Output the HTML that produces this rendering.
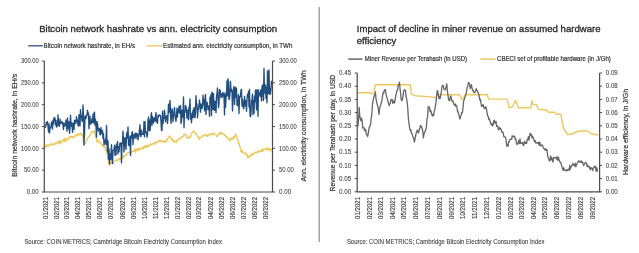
<!DOCTYPE html>
<html><head><meta charset="utf-8"><style>
html,body{margin:0;padding:0;background:#fff;width:639px;height:253px;overflow:hidden}
svg{display:block;filter:blur(0.3px)}
</style></head><body>
<svg width="639" height="253" viewBox="0 0 639 253" font-family='"Liberation Sans", sans-serif'>
<rect width="639" height="253" fill="#ffffff"/>
<polyline fill="none" stroke="#ebc95f" stroke-width="1.35" stroke-linejoin="round" points="45.00,146.13 45.50,146.19 46.00,147.20 46.50,144.65 47.00,145.12 47.50,146.14 48.00,145.25 48.50,145.07 49.00,146.40 49.50,144.86 50.00,144.19 50.50,143.98 51.00,145.03 51.50,144.91 52.00,143.64 52.50,143.81 53.00,144.77 53.50,144.70 54.00,143.75 54.50,144.54 55.00,144.40 55.50,142.54 56.00,143.36 56.50,143.67 57.00,142.77 57.50,141.46 58.00,142.55 58.50,143.07 59.00,143.44 59.50,140.59 60.00,143.75 60.50,140.92 61.00,142.17 61.50,142.16 62.00,141.77 62.50,140.98 63.00,139.85 63.50,140.90 64.00,139.75 64.50,138.28 65.00,141.81 65.50,140.12 66.00,140.69 66.50,138.57 67.00,140.03 67.50,139.92 68.00,139.70 68.50,138.41 69.00,137.39 69.50,137.91 70.00,136.30 70.50,136.46 71.00,137.53 71.50,136.58 72.00,136.96 72.50,136.81 73.00,138.04 73.50,137.41 74.00,136.28 74.50,136.96 75.00,135.38 75.50,135.49 76.00,136.18 76.50,134.48 77.00,134.96 77.50,134.04 78.00,134.85 78.50,135.72 79.00,133.86 79.50,134.35 80.00,133.37 80.50,133.20 81.00,133.13 81.50,135.02 82.00,135.65 82.50,134.34 83.00,137.73 83.50,142.95 84.00,144.45 84.50,144.44 85.00,143.28 85.50,142.48 86.00,141.91 86.50,140.29 87.00,139.66 87.50,137.99 88.00,138.13 88.50,136.69 89.00,136.83 89.50,135.50 90.00,135.49 90.50,134.98 91.00,132.92 91.50,132.59 92.00,131.74 92.50,132.17 93.00,132.49 93.50,131.65 94.00,130.56 94.50,132.10 95.00,132.36 95.50,136.82 96.00,137.66 96.50,138.13 97.00,142.32 97.50,141.96 98.00,140.53 98.50,141.76 99.00,141.88 99.50,142.49 100.00,141.77 100.50,142.73 101.00,143.92 101.50,144.14 102.00,145.21 102.50,144.82 103.00,146.93 103.50,145.51 104.00,146.92 104.50,146.12 105.00,147.31 105.50,149.84 106.00,148.97 106.50,150.73 107.00,152.87 107.50,155.21 108.00,158.71 108.50,161.62 109.00,164.66 109.50,164.99 110.00,164.39 110.50,163.05 111.00,162.57 111.50,163.15 112.00,162.63 112.50,163.17 113.00,164.06 113.50,162.54 114.00,161.68 114.50,161.33 115.00,160.60 115.50,160.33 116.00,160.07 116.50,160.30 117.00,160.09 117.50,160.71 118.00,159.72 118.50,159.50 119.00,158.43 119.50,160.08 120.00,158.93 120.50,159.47 121.00,158.41 121.50,158.54 122.00,156.97 122.50,157.29 123.00,158.32 123.50,155.21 124.00,156.54 124.50,156.55 125.00,155.29 125.50,155.18 126.00,155.25 126.50,153.63 127.00,154.14 127.50,152.98 128.00,152.87 128.50,152.66 129.00,152.75 129.50,152.70 130.00,152.67 130.50,151.08 131.00,153.31 131.50,152.54 132.00,152.06 132.50,151.10 133.00,151.12 133.50,151.40 134.00,151.12 134.50,149.45 135.00,151.00 135.50,152.39 136.00,148.79 136.50,150.65 137.00,150.03 137.50,149.50 138.00,150.39 138.50,148.39 139.00,149.20 139.50,149.98 140.00,148.64 140.50,148.32 141.00,148.55 141.50,148.00 142.00,149.28 142.50,147.36 143.00,148.49 143.50,146.80 144.00,148.03 144.50,147.32 145.00,145.39 145.50,147.09 146.00,146.13 146.50,146.31 147.00,147.46 147.50,145.29 148.00,145.06 148.50,146.59 149.00,145.37 149.50,146.13 150.00,144.98 150.50,143.85 151.00,144.17 151.50,144.86 152.00,144.51 152.50,143.70 153.00,143.59 153.50,143.34 154.00,142.86 154.50,144.53 155.00,143.01 155.50,141.98 156.00,142.25 156.50,142.92 157.00,142.66 157.50,141.89 158.00,141.31 158.50,141.61 159.00,140.18 159.50,140.25 160.00,141.56 160.50,140.44 161.00,140.85 161.50,141.26 162.00,140.89 162.50,140.63 163.00,142.35 163.50,141.49 164.00,140.95 164.50,141.93 165.00,141.90 165.50,141.19 166.00,142.05 166.50,141.06 167.00,138.94 167.50,139.41 168.00,138.50 168.50,137.57 169.00,135.88 169.50,136.26 170.00,137.08 170.50,137.78 171.00,137.48 171.50,139.35 172.00,138.61 172.50,139.92 173.00,141.61 173.50,140.76 174.00,141.14 174.50,142.30 175.00,141.26 175.50,141.34 176.00,141.73 176.50,142.34 177.00,140.01 177.50,140.55 178.00,139.97 178.50,139.46 179.00,139.17 179.50,138.73 180.00,139.10 180.50,137.79 181.00,138.06 181.50,137.78 182.00,136.44 182.50,136.53 183.00,137.08 183.50,135.61 184.00,134.39 184.50,134.27 185.00,133.59 185.50,135.05 186.00,136.08 186.50,135.49 187.00,136.53 187.50,138.09 188.00,137.55 188.50,138.65 189.00,138.07 189.50,137.25 190.00,136.49 190.50,137.41 191.00,134.63 191.50,133.57 192.00,132.58 192.50,131.88 193.00,131.96 193.50,131.13 194.00,131.94 194.50,131.50 195.00,133.21 195.50,133.24 196.00,134.32 196.50,133.74 197.00,135.51 197.50,136.40 198.00,137.13 198.50,136.64 199.00,139.62 199.50,138.36 200.00,137.95 200.50,137.71 201.00,137.36 201.50,137.43 202.00,135.89 202.50,135.76 203.00,136.24 203.50,135.77 204.00,135.04 204.50,134.90 205.00,134.72 205.50,135.26 206.00,136.13 206.50,134.56 207.00,136.37 207.50,135.89 208.00,134.98 208.50,135.85 209.00,134.27 209.50,133.97 210.00,134.15 210.50,134.65 211.00,134.58 211.50,134.33 212.00,134.63 212.50,132.95 213.00,134.67 213.50,133.20 214.00,133.61 214.50,133.92 215.00,133.92 215.50,134.29 216.00,135.06 216.50,136.28 217.00,136.81 217.50,136.29 218.00,134.70 218.50,134.35 219.00,133.76 219.50,134.21 220.00,131.97 220.50,133.77 221.00,132.59 221.50,132.54 222.00,133.48 222.50,134.12 223.00,133.80 223.50,134.45 224.00,133.97 224.50,134.99 225.00,135.64 225.50,135.34 226.00,137.06 226.50,136.80 227.00,137.39 227.50,137.32 228.00,138.41 228.50,139.79 229.00,138.97 229.50,140.80 230.00,140.34 230.50,140.03 231.00,138.04 231.50,139.26 232.00,139.53 232.50,138.29 233.00,138.63 233.50,136.65 234.00,138.52 234.50,137.34 235.00,136.95 235.50,133.59 236.00,135.09 236.50,135.96 237.00,138.21 237.50,138.52 238.00,140.26 238.50,143.88 239.00,143.51 239.50,145.38 240.00,147.46 240.50,148.72 241.00,151.46 241.50,152.17 242.00,150.80 242.50,150.41 243.00,152.77 243.50,153.05 244.00,153.18 244.50,153.74 245.00,152.79 245.50,153.78 246.00,153.43 246.50,153.91 247.00,156.09 247.50,155.43 248.00,158.00 248.50,156.79 249.00,155.96 249.50,156.63 250.00,157.01 250.50,155.76 251.00,154.24 251.50,155.02 252.00,155.39 252.50,153.81 253.00,153.37 253.50,154.37 254.00,153.52 254.50,152.40 255.00,152.66 255.50,152.15 256.00,152.64 256.50,152.27 257.00,152.75 257.50,152.25 258.00,150.53 258.50,151.78 259.00,151.99 259.50,151.56 260.00,151.83 260.50,150.60 261.00,150.19 261.50,151.38 262.00,149.86 262.50,148.96 263.00,151.06 263.50,149.71 264.00,149.87 264.50,148.98 265.00,148.90 265.50,148.88 266.00,149.31 266.50,149.69 267.00,147.70 267.50,149.75 268.00,148.49 268.50,148.67 269.00,149.99 269.50,149.56 270.00,148.63 270.50,151.10 271.00,149.30 271.50,150.17"/>
<polyline fill="none" stroke="#214e7e" stroke-width="1.35" stroke-linejoin="round" points="45.00,126.01 45.50,127.29 46.00,124.81 46.50,122.15 47.00,124.03 47.50,121.70 48.00,126.26 48.50,131.81 49.00,123.86 49.50,133.01 50.00,128.13 50.50,127.55 51.00,126.46 51.50,121.95 52.00,125.87 52.50,129.03 53.00,120.14 53.50,124.00 54.00,117.70 54.50,120.37 55.00,117.95 55.50,124.95 56.00,120.40 56.50,127.11 57.00,126.59 57.50,125.06 58.00,114.81 58.50,123.46 59.00,125.59 59.50,126.27 60.00,119.02 60.50,123.62 61.00,121.39 61.50,122.11 62.00,123.32 62.50,122.06 63.00,125.46 63.50,129.48 64.00,122.97 64.50,125.03 65.00,125.99 65.50,125.66 66.00,119.83 66.50,125.46 67.00,131.02 67.50,118.01 68.00,128.56 68.50,125.16 69.00,121.65 69.50,133.27 70.00,127.64 70.50,115.15 71.00,124.33 71.50,126.44 72.00,122.91 72.50,132.38 73.00,123.20 73.50,126.36 74.00,129.68 74.50,120.10 75.00,123.91 75.50,120.63 76.00,122.97 76.50,116.78 77.00,119.20 77.50,120.62 78.00,125.24 78.50,126.04 79.00,114.65 79.50,116.73 80.00,125.87 80.50,109.79 81.00,115.49 81.50,115.96 82.00,120.97 82.50,121.40 83.00,105.00 83.50,117.08 84.00,145.00 84.50,133.50 85.00,115.98 85.50,116.06 86.00,118.68 86.50,115.92 87.00,115.05 87.50,110.11 88.00,114.94 88.50,113.17 89.00,128.81 89.50,119.22 90.00,116.21 90.50,124.11 91.00,122.94 91.50,123.11 92.00,118.64 92.50,122.45 93.00,114.38 93.50,122.94 94.00,113.34 94.50,112.18 95.00,125.21 95.50,119.32 96.00,125.52 96.50,137.10 97.00,121.62 97.50,123.53 98.00,128.76 98.50,131.13 99.00,128.39 99.50,129.06 100.00,134.79 100.50,134.80 101.00,127.44 101.50,133.58 102.00,132.98 102.50,130.37 103.00,138.39 103.50,133.77 104.00,144.83 104.50,142.02 105.00,142.81 105.50,138.88 106.00,144.38 106.50,125.39 107.00,142.57 107.50,152.15 108.00,140.89 108.50,159.41 109.00,148.92 109.50,164.00 110.00,153.96 110.50,159.69 111.00,153.67 111.50,144.70 112.00,158.61 112.50,163.39 113.00,151.06 113.50,149.60 114.00,149.79 114.50,145.25 115.00,155.36 115.50,146.66 116.00,154.80 116.50,144.36 117.00,145.19 117.50,141.60 118.00,153.95 118.50,146.57 119.00,151.80 119.50,146.73 120.00,142.90 120.50,144.38 121.00,142.89 121.50,162.90 122.00,143.13 122.50,143.17 123.00,131.15 123.50,139.96 124.00,151.95 124.50,139.97 125.00,137.70 125.50,144.36 126.00,149.43 126.50,134.66 127.00,132.45 127.50,138.13 128.00,126.95 128.50,144.40 129.00,145.72 129.50,140.36 130.00,135.83 130.50,155.44 131.00,136.24 131.50,137.93 132.00,132.65 132.50,131.75 133.00,144.54 133.50,134.72 134.00,138.51 134.50,136.41 135.00,133.88 135.50,133.12 136.00,138.60 136.50,133.35 137.00,133.71 137.50,134.20 138.00,139.81 138.50,135.19 139.00,134.84 139.50,129.46 140.00,124.74 140.50,136.64 141.00,136.37 141.50,130.19 142.00,133.43 142.50,134.35 143.00,134.26 143.50,134.39 144.00,121.51 144.50,136.84 145.00,121.79 145.50,132.67 146.00,132.68 146.50,132.03 147.00,137.06 147.50,134.65 148.00,120.23 148.50,116.98 149.00,130.15 149.50,119.96 150.00,130.87 150.50,126.24 151.00,115.60 151.50,112.75 152.00,125.28 152.50,116.78 153.00,121.91 153.50,123.15 154.00,117.93 154.50,118.02 155.00,121.09 155.50,116.47 156.00,112.58 156.50,121.74 157.00,120.86 157.50,123.24 158.00,115.34 158.50,116.96 159.00,114.87 159.50,115.29 160.00,115.66 160.50,115.45 161.00,121.58 161.50,130.49 162.00,130.50 162.50,111.22 163.00,123.77 163.50,118.10 164.00,118.32 164.50,110.06 165.00,115.41 165.50,121.99 166.00,117.13 166.50,117.86 167.00,115.56 167.50,123.54 168.00,116.68 168.50,104.11 169.00,112.47 169.50,104.99 170.00,100.39 170.50,112.84 171.00,123.35 171.50,115.87 172.00,108.75 172.50,109.94 173.00,121.70 173.50,115.97 174.00,115.21 174.50,107.40 175.00,114.89 175.50,119.19 176.00,121.26 176.50,115.52 177.00,108.08 177.50,116.97 178.00,109.88 178.50,112.31 179.00,106.18 179.50,112.66 180.00,113.29 180.50,105.44 181.00,123.45 181.50,121.53 182.00,110.07 182.50,117.22 183.00,114.77 183.50,96.90 184.00,127.63 184.50,111.77 185.00,112.50 185.50,105.35 186.00,106.72 186.50,110.29 187.00,118.28 187.50,112.94 188.00,109.97 188.50,119.74 189.00,106.93 189.50,107.71 190.00,98.82 190.50,119.19 191.00,115.31 191.50,122.73 192.00,113.09 192.50,117.76 193.00,110.12 193.50,117.25 194.00,107.34 194.50,108.84 195.00,117.75 195.50,111.74 196.00,95.58 196.50,104.50 197.00,104.04 197.50,117.81 198.00,110.77 198.50,107.82 199.00,105.03 199.50,100.03 200.00,106.38 200.50,112.13 201.00,103.90 201.50,104.75 202.00,108.31 202.50,106.51 203.00,95.28 203.50,103.87 204.00,99.31 204.50,110.81 205.00,99.71 205.50,94.46 206.00,114.55 206.50,102.10 207.00,102.16 207.50,104.99 208.00,109.79 208.50,108.73 209.00,105.95 209.50,116.35 210.00,97.06 210.50,100.49 211.00,94.33 211.50,115.47 212.00,92.25 212.50,92.90 213.00,109.46 213.50,93.66 214.00,107.52 214.50,110.43 215.00,101.07 215.50,102.89 216.00,112.67 216.50,96.88 217.00,93.72 217.50,87.93 218.00,97.70 218.50,107.79 219.00,103.74 219.50,89.68 220.00,90.01 220.50,92.25 221.00,97.72 221.50,93.81 222.00,96.56 222.50,96.99 223.00,92.50 223.50,94.21 224.00,95.84 224.50,114.87 225.00,92.92 225.50,107.46 226.00,97.98 226.50,93.91 227.00,81.03 227.50,96.00 228.00,78.78 228.50,82.87 229.00,99.58 229.50,98.67 230.00,92.57 230.50,81.31 231.00,91.28 231.50,89.19 232.00,91.50 232.50,111.07 233.00,96.26 233.50,89.11 234.00,86.40 234.50,104.42 235.00,94.37 235.50,87.52 236.00,97.19 236.50,88.18 237.00,105.20 237.50,105.17 238.00,105.67 238.50,94.50 239.00,113.45 239.50,97.69 240.00,96.12 240.50,96.85 241.00,90.09 241.50,89.37 242.00,106.32 242.50,99.37 243.00,102.75 243.50,108.94 244.00,107.39 244.50,96.39 245.00,103.88 245.50,105.85 246.00,100.48 246.50,111.31 247.00,99.85 247.50,94.50 248.00,96.86 248.50,91.36 249.00,107.06 249.50,89.31 250.00,115.50 250.50,116.85 251.00,113.25 251.50,100.23 252.00,100.78 252.50,94.16 253.00,114.69 253.50,100.48 254.00,113.32 254.50,96.14 255.00,101.83 255.50,90.03 256.00,96.92 256.50,109.93 257.00,89.57 257.50,91.30 258.00,116.33 258.50,89.93 259.00,93.93 259.50,93.53 260.00,96.23 260.50,92.15 261.00,89.54 261.50,100.93 262.00,87.23 262.50,84.86 263.00,93.88 263.50,100.57 264.00,68.37 264.50,93.15 265.00,87.81 265.50,84.95 266.00,98.49 266.50,87.76 267.00,102.80 267.50,70.98 268.00,93.74 268.50,80.95 269.00,70.04 269.50,94.38 270.00,88.42 270.50,93.91 271.00,88.64 271.50,80.70"/>
<polyline fill="none" stroke="#ebc95f" stroke-width="1.4" stroke-linejoin="round" points="357.50,92.80 370.00,92.80 373.80,94.20 375.30,84.80 410.40,84.80 411.30,93.80 415.00,95.70 428.20,96.60 435.70,97.50 437.60,94.70 459.20,94.70 462.00,99.40 465.80,94.70 487.40,94.80 488.50,99.10 507.00,99.10 509.10,107.80 512.40,106.70 515.60,100.20 518.30,107.80 530.90,107.80 532.00,100.60 533.00,104.60 536.30,104.60 538.50,109.30 546.00,110.00 548.30,112.20 554.80,112.20 555.90,114.30 560.90,114.30 563.50,128.50 567.80,134.60 572.00,134.00 578.70,131.00 587.40,131.00 591.70,134.00 598.30,135.00"/>
<polyline fill="none" stroke="#666666" stroke-width="1.3" stroke-linejoin="round" points="358.00,126.26 358.60,118.83 359.20,107.41 359.80,116.51 360.40,118.91 361.00,120.96 361.60,118.13 362.20,121.20 362.80,128.13 363.40,127.61 364.00,127.64 364.60,130.71 365.20,129.29 365.80,130.21 366.40,134.68 367.00,134.65 367.60,136.69 368.20,134.12 368.80,129.14 369.40,127.01 370.00,126.29 370.60,124.31 371.20,118.06 371.80,114.47 372.40,105.35 373.00,101.44 373.60,98.08 374.20,96.17 374.80,94.84 375.40,91.85 376.00,98.66 376.60,101.86 377.20,104.23 377.80,106.27 378.40,109.49 379.00,114.47 379.60,108.78 380.20,106.14 380.80,104.74 381.40,102.25 382.00,100.49 382.60,95.63 383.20,92.36 383.80,92.96 384.40,89.89 385.00,89.60 385.60,90.80 386.20,94.99 386.80,97.08 387.40,99.27 388.00,101.35 388.60,103.56 389.20,105.70 389.80,103.87 390.40,103.04 391.00,99.26 391.60,100.36 392.20,99.58 392.80,103.31 393.40,102.07 394.00,100.96 394.60,103.01 395.20,99.05 395.80,95.67 396.40,93.07 397.00,90.25 397.60,90.13 398.20,84.98 398.80,84.78 399.40,82.06 400.00,88.38 400.60,93.35 401.20,99.38 401.80,100.69 402.40,99.45 403.00,96.13 403.60,91.48 404.20,89.85 404.80,90.26 405.40,90.13 406.00,96.32 406.60,98.55 407.20,102.24 407.80,108.68 408.40,119.17 409.00,122.85 409.60,127.94 410.20,130.29 410.80,129.63 411.40,133.21 412.00,133.69 412.60,135.60 413.20,137.25 413.80,139.04 414.40,142.17 415.00,138.96 415.60,135.96 416.20,133.16 416.80,131.32 417.40,130.07 418.00,132.42 418.60,132.83 419.20,129.96 419.80,128.35 420.40,125.51 421.00,126.71 421.60,126.44 422.20,128.73 422.80,131.50 423.40,137.85 424.00,134.04 424.60,132.12 425.20,131.24 425.80,129.86 426.40,127.00 427.00,119.39 427.60,116.40 428.20,106.77 428.80,107.75 429.40,106.81 430.00,111.75 430.60,110.22 431.20,111.85 431.80,114.40 432.40,116.10 433.00,114.29 433.60,115.79 434.20,111.07 434.80,109.70 435.40,106.03 436.00,102.35 436.60,96.09 437.20,90.67 437.80,91.17 438.40,95.16 439.00,98.77 439.60,96.62 440.20,98.33 440.80,94.28 441.40,91.82 442.00,86.29 442.60,85.30 443.20,85.32 443.80,88.75 444.40,89.15 445.00,89.99 445.60,88.88 446.20,86.28 446.80,83.84 447.40,91.19 448.00,95.35 448.60,99.34 449.20,100.85 449.80,100.28 450.40,96.40 451.00,95.92 451.60,99.58 452.20,101.55 452.80,100.88 453.40,102.44 454.00,104.67 454.60,105.14 455.20,104.01 455.80,106.40 456.40,105.26 457.00,107.27 457.60,111.95 458.20,111.79 458.80,114.38 459.40,117.05 460.00,119.06 460.60,116.06 461.20,115.06 461.80,112.43 462.40,112.73 463.00,107.49 463.60,101.41 464.20,99.46 464.80,97.86 465.40,95.03 466.00,94.26 466.60,91.40 467.20,87.16 467.80,85.99 468.40,82.69 469.00,82.92 469.60,84.02 470.20,88.56 470.80,86.40 471.40,84.77 472.00,88.09 472.60,90.62 473.20,90.35 473.80,92.37 474.40,92.76 475.00,92.52 475.60,90.71 476.20,88.61 476.80,90.65 477.40,90.80 478.00,92.73 478.60,93.46 479.20,96.16 479.80,100.09 480.40,99.19 481.00,103.25 481.60,106.33 482.20,105.19 482.80,106.27 483.40,104.78 484.00,108.21 484.60,108.64 485.20,108.43 485.80,106.75 486.40,108.58 487.00,112.74 487.60,115.83 488.20,116.13 488.80,119.50 489.40,118.99 490.00,120.99 490.60,122.69 491.20,124.70 491.80,123.61 492.40,125.91 493.00,125.50 493.60,121.37 494.20,120.19 494.80,123.02 495.40,122.62 496.00,121.30 496.60,126.35 497.20,126.20 497.80,125.98 498.40,129.95 499.00,127.98 499.60,127.50 500.20,129.44 500.80,128.79 501.40,129.99 502.00,132.31 502.60,131.92 503.20,132.90 503.80,136.50 504.40,136.29 505.00,137.06 505.60,137.55 506.20,140.86 506.80,146.00 507.40,144.77 508.00,146.31 508.60,141.76 509.20,141.77 509.80,139.30 510.40,139.42 511.00,139.32 511.60,139.31 512.20,135.59 512.80,136.76 513.40,136.58 514.00,136.39 514.60,136.10 515.20,139.26 515.80,138.71 516.40,142.88 517.00,144.54 517.60,143.93 518.20,142.25 518.80,140.54 519.40,143.55 520.00,138.85 520.60,143.49 521.20,143.13 521.80,142.75 522.40,142.60 523.00,145.04 523.60,145.53 524.20,141.65 524.80,142.07 525.40,143.41 526.00,142.07 526.60,143.52 527.20,139.30 527.80,139.87 528.40,136.66 529.00,140.19 529.60,135.80 530.20,133.16 530.80,135.15 531.40,134.42 532.00,138.11 532.60,136.19 533.20,137.63 533.80,139.43 534.40,141.67 535.00,140.44 535.60,142.78 536.20,143.02 536.80,142.51 537.40,143.20 538.00,143.34 538.60,142.31 539.20,145.28 539.80,142.10 540.40,145.62 541.00,145.96 541.60,145.21 542.20,144.95 542.80,146.27 543.40,147.79 544.00,148.76 544.60,148.76 545.20,150.25 545.80,148.81 546.40,150.42 547.00,149.46 547.60,155.49 548.20,157.70 548.80,158.96 549.40,161.01 550.00,160.40 550.60,155.84 551.20,159.55 551.80,157.61 552.40,160.57 553.00,162.03 553.60,157.74 554.20,158.12 554.80,157.31 555.40,157.71 556.00,157.97 556.60,159.20 557.20,156.64 557.80,160.36 558.40,157.50 559.00,159.47 559.60,161.01 560.20,162.50 560.80,162.43 561.40,164.82 562.00,167.21 562.60,168.63 563.20,170.49 563.80,167.62 564.40,170.21 565.00,170.52 565.60,170.25 566.20,169.93 566.80,171.09 567.40,169.54 568.00,169.82 568.60,169.23 569.20,170.45 569.80,165.26 570.40,169.01 571.00,166.62 571.60,166.21 572.20,164.93 572.80,163.47 573.40,165.20 574.00,164.59 574.60,165.92 575.20,163.16 575.80,166.73 576.40,164.95 577.00,163.68 577.60,162.48 578.20,161.78 578.80,160.73 579.40,161.40 580.00,162.29 580.60,162.22 581.20,160.78 581.80,162.44 582.40,161.79 583.00,163.33 583.60,165.71 584.20,164.36 584.80,163.59 585.40,162.33 586.00,163.05 586.60,163.14 587.20,166.73 587.80,165.24 588.40,166.76 589.00,166.32 589.60,167.65 590.20,169.76 590.80,167.44 591.40,168.29 592.00,168.09 592.60,170.67 593.20,168.27 593.80,167.53 594.40,166.60 595.00,165.97 595.60,167.81 596.20,171.36 596.80,167.56 597.40,170.91 598.00,170.83"/>
<line x1="319.2" y1="7" x2="319.2" y2="242" stroke="#9a9a9a" stroke-width="1.4"/>
<text x="39.20" y="31.60" font-size="9.7" fill="#2b2b2b" textLength="238.00" lengthAdjust="spacingAndGlyphs" stroke="#2b2b2b" stroke-width="0.32">Bitcoin network hashrate vs ann. electricity consumption</text>
<line x1="28.20" y1="45.80" x2="42.80" y2="45.80" stroke="#3a5f86" stroke-width="1.4"/>
<text x="43.60" y="47.90" font-size="6.6" fill="#3a3a3a" textLength="91.40" lengthAdjust="spacingAndGlyphs" stroke="#3a3a3a" stroke-width="0.22">Bitcoin network hashrate, in EH/s</text>
<line x1="147.00" y1="45.80" x2="162.00" y2="45.80" stroke="#ebc95f" stroke-width="1.4"/>
<text x="163.00" y="47.90" font-size="6.6" fill="#3a3a3a" textLength="129.40" lengthAdjust="spacingAndGlyphs" stroke="#3a3a3a" stroke-width="0.22">Estimated ann. electricity consumption, in TWh</text>
<line x1="44.30" y1="61.00" x2="44.30" y2="192.00" stroke="#4a4a4a" stroke-width="1.2"/>
<line x1="43.70" y1="192.00" x2="273.10" y2="192.00" stroke="#4a4a4a" stroke-width="1.2"/>
<line x1="272.50" y1="61.00" x2="272.50" y2="192.00" stroke="#4a4a4a" stroke-width="1.2"/>
<line x1="41.80" y1="192.00" x2="44.30" y2="192.00" stroke="#4a4a4a" stroke-width="1"/>
<line x1="272.50" y1="192.00" x2="275.00" y2="192.00" stroke="#4a4a4a" stroke-width="1"/>
<text x="38.80" y="194.20" font-size="6.8" fill="#3a3a3a" text-anchor="end" textLength="12.10" lengthAdjust="spacingAndGlyphs" stroke="#3a3a3a" stroke-width="0.05">0.00</text>
<text x="279.00" y="194.20" font-size="6.8" fill="#3a3a3a" textLength="12.10" lengthAdjust="spacingAndGlyphs" stroke="#3a3a3a" stroke-width="0.05">0.00</text>
<line x1="41.80" y1="170.17" x2="44.30" y2="170.17" stroke="#4a4a4a" stroke-width="1"/>
<line x1="272.50" y1="170.17" x2="275.00" y2="170.17" stroke="#4a4a4a" stroke-width="1"/>
<text x="38.80" y="172.37" font-size="6.8" fill="#3a3a3a" text-anchor="end" textLength="14.80" lengthAdjust="spacingAndGlyphs" stroke="#3a3a3a" stroke-width="0.05">50.00</text>
<text x="279.00" y="172.37" font-size="6.8" fill="#3a3a3a" textLength="14.80" lengthAdjust="spacingAndGlyphs" stroke="#3a3a3a" stroke-width="0.05">50.00</text>
<line x1="41.80" y1="148.33" x2="44.30" y2="148.33" stroke="#4a4a4a" stroke-width="1"/>
<line x1="272.50" y1="148.33" x2="275.00" y2="148.33" stroke="#4a4a4a" stroke-width="1"/>
<text x="38.80" y="150.53" font-size="6.8" fill="#3a3a3a" text-anchor="end" textLength="17.80" lengthAdjust="spacingAndGlyphs" stroke="#3a3a3a" stroke-width="0.05">100.00</text>
<text x="279.00" y="150.53" font-size="6.8" fill="#3a3a3a" textLength="17.80" lengthAdjust="spacingAndGlyphs" stroke="#3a3a3a" stroke-width="0.05">100.00</text>
<line x1="41.80" y1="126.50" x2="44.30" y2="126.50" stroke="#4a4a4a" stroke-width="1"/>
<line x1="272.50" y1="126.50" x2="275.00" y2="126.50" stroke="#4a4a4a" stroke-width="1"/>
<text x="38.80" y="128.70" font-size="6.8" fill="#3a3a3a" text-anchor="end" textLength="17.80" lengthAdjust="spacingAndGlyphs" stroke="#3a3a3a" stroke-width="0.05">150.00</text>
<text x="279.00" y="128.70" font-size="6.8" fill="#3a3a3a" textLength="17.80" lengthAdjust="spacingAndGlyphs" stroke="#3a3a3a" stroke-width="0.05">150.00</text>
<line x1="41.80" y1="104.67" x2="44.30" y2="104.67" stroke="#4a4a4a" stroke-width="1"/>
<line x1="272.50" y1="104.67" x2="275.00" y2="104.67" stroke="#4a4a4a" stroke-width="1"/>
<text x="38.80" y="106.87" font-size="6.8" fill="#3a3a3a" text-anchor="end" textLength="17.80" lengthAdjust="spacingAndGlyphs" stroke="#3a3a3a" stroke-width="0.05">200.00</text>
<text x="279.00" y="106.87" font-size="6.8" fill="#3a3a3a" textLength="17.80" lengthAdjust="spacingAndGlyphs" stroke="#3a3a3a" stroke-width="0.05">200.00</text>
<line x1="41.80" y1="82.83" x2="44.30" y2="82.83" stroke="#4a4a4a" stroke-width="1"/>
<line x1="272.50" y1="82.83" x2="275.00" y2="82.83" stroke="#4a4a4a" stroke-width="1"/>
<text x="38.80" y="85.03" font-size="6.8" fill="#3a3a3a" text-anchor="end" textLength="17.80" lengthAdjust="spacingAndGlyphs" stroke="#3a3a3a" stroke-width="0.05">250.00</text>
<text x="279.00" y="85.03" font-size="6.8" fill="#3a3a3a" textLength="17.80" lengthAdjust="spacingAndGlyphs" stroke="#3a3a3a" stroke-width="0.05">250.00</text>
<line x1="41.80" y1="61.00" x2="44.30" y2="61.00" stroke="#4a4a4a" stroke-width="1"/>
<line x1="272.50" y1="61.00" x2="275.00" y2="61.00" stroke="#4a4a4a" stroke-width="1"/>
<text x="38.80" y="63.20" font-size="6.8" fill="#3a3a3a" text-anchor="end" textLength="17.80" lengthAdjust="spacingAndGlyphs" stroke="#3a3a3a" stroke-width="0.05">300.00</text>
<text x="279.00" y="63.20" font-size="6.8" fill="#3a3a3a" textLength="17.80" lengthAdjust="spacingAndGlyphs" stroke="#3a3a3a" stroke-width="0.05">300.00</text>
<text x="0.00" y="0.00" font-size="6.6" fill="#3a3a3a" text-anchor="end" textLength="21.90" lengthAdjust="spacingAndGlyphs" transform="translate(47.60,197.0) rotate(-90)" stroke="#3a3a3a" stroke-width="0.12">01/2021</text>
<text x="0.00" y="0.00" font-size="6.6" fill="#3a3a3a" text-anchor="end" textLength="21.90" lengthAdjust="spacingAndGlyphs" transform="translate(58.85,197.0) rotate(-90)" stroke="#3a3a3a" stroke-width="0.12">02/2021</text>
<text x="0.00" y="0.00" font-size="6.6" fill="#3a3a3a" text-anchor="end" textLength="21.90" lengthAdjust="spacingAndGlyphs" transform="translate(69.01,197.0) rotate(-90)" stroke="#3a3a3a" stroke-width="0.12">03/2021</text>
<text x="0.00" y="0.00" font-size="6.6" fill="#3a3a3a" text-anchor="end" textLength="21.90" lengthAdjust="spacingAndGlyphs" transform="translate(80.25,197.0) rotate(-90)" stroke="#3a3a3a" stroke-width="0.12">04/2021</text>
<text x="0.00" y="0.00" font-size="6.6" fill="#3a3a3a" text-anchor="end" textLength="21.90" lengthAdjust="spacingAndGlyphs" transform="translate(91.14,197.0) rotate(-90)" stroke="#3a3a3a" stroke-width="0.12">05/2021</text>
<text x="0.00" y="0.00" font-size="6.6" fill="#3a3a3a" text-anchor="end" textLength="21.90" lengthAdjust="spacingAndGlyphs" transform="translate(102.39,197.0) rotate(-90)" stroke="#3a3a3a" stroke-width="0.12">06/2021</text>
<text x="0.00" y="0.00" font-size="6.6" fill="#3a3a3a" text-anchor="end" textLength="21.90" lengthAdjust="spacingAndGlyphs" transform="translate(113.27,197.0) rotate(-90)" stroke="#3a3a3a" stroke-width="0.12">07/2021</text>
<text x="0.00" y="0.00" font-size="6.6" fill="#3a3a3a" text-anchor="end" textLength="21.90" lengthAdjust="spacingAndGlyphs" transform="translate(124.52,197.0) rotate(-90)" stroke="#3a3a3a" stroke-width="0.12">08/2021</text>
<text x="0.00" y="0.00" font-size="6.6" fill="#3a3a3a" text-anchor="end" textLength="21.90" lengthAdjust="spacingAndGlyphs" transform="translate(135.77,197.0) rotate(-90)" stroke="#3a3a3a" stroke-width="0.12">09/2021</text>
<text x="0.00" y="0.00" font-size="6.6" fill="#3a3a3a" text-anchor="end" textLength="21.90" lengthAdjust="spacingAndGlyphs" transform="translate(146.65,197.0) rotate(-90)" stroke="#3a3a3a" stroke-width="0.12">10/2021</text>
<text x="0.00" y="0.00" font-size="6.6" fill="#3a3a3a" text-anchor="end" textLength="21.90" lengthAdjust="spacingAndGlyphs" transform="translate(157.90,197.0) rotate(-90)" stroke="#3a3a3a" stroke-width="0.12">11/2021</text>
<text x="0.00" y="0.00" font-size="6.6" fill="#3a3a3a" text-anchor="end" textLength="21.90" lengthAdjust="spacingAndGlyphs" transform="translate(168.78,197.0) rotate(-90)" stroke="#3a3a3a" stroke-width="0.12">12/2021</text>
<text x="0.00" y="0.00" font-size="6.6" fill="#3a3a3a" text-anchor="end" textLength="21.90" lengthAdjust="spacingAndGlyphs" transform="translate(180.03,197.0) rotate(-90)" stroke="#3a3a3a" stroke-width="0.12">01/2022</text>
<text x="0.00" y="0.00" font-size="6.6" fill="#3a3a3a" text-anchor="end" textLength="21.90" lengthAdjust="spacingAndGlyphs" transform="translate(191.28,197.0) rotate(-90)" stroke="#3a3a3a" stroke-width="0.12">02/2022</text>
<text x="0.00" y="0.00" font-size="6.6" fill="#3a3a3a" text-anchor="end" textLength="21.90" lengthAdjust="spacingAndGlyphs" transform="translate(201.44,197.0) rotate(-90)" stroke="#3a3a3a" stroke-width="0.12">03/2022</text>
<text x="0.00" y="0.00" font-size="6.6" fill="#3a3a3a" text-anchor="end" textLength="21.90" lengthAdjust="spacingAndGlyphs" transform="translate(212.69,197.0) rotate(-90)" stroke="#3a3a3a" stroke-width="0.12">04/2022</text>
<text x="0.00" y="0.00" font-size="6.6" fill="#3a3a3a" text-anchor="end" textLength="21.90" lengthAdjust="spacingAndGlyphs" transform="translate(223.57,197.0) rotate(-90)" stroke="#3a3a3a" stroke-width="0.12">05/2022</text>
<text x="0.00" y="0.00" font-size="6.6" fill="#3a3a3a" text-anchor="end" textLength="21.90" lengthAdjust="spacingAndGlyphs" transform="translate(234.82,197.0) rotate(-90)" stroke="#3a3a3a" stroke-width="0.12">06/2022</text>
<text x="0.00" y="0.00" font-size="6.6" fill="#3a3a3a" text-anchor="end" textLength="21.90" lengthAdjust="spacingAndGlyphs" transform="translate(245.70,197.0) rotate(-90)" stroke="#3a3a3a" stroke-width="0.12">07/2022</text>
<text x="0.00" y="0.00" font-size="6.6" fill="#3a3a3a" text-anchor="end" textLength="21.90" lengthAdjust="spacingAndGlyphs" transform="translate(256.95,197.0) rotate(-90)" stroke="#3a3a3a" stroke-width="0.12">08/2022</text>
<text x="0.00" y="0.00" font-size="6.6" fill="#3a3a3a" text-anchor="end" textLength="21.90" lengthAdjust="spacingAndGlyphs" transform="translate(268.20,197.0) rotate(-90)" stroke="#3a3a3a" stroke-width="0.12">09/2022</text>
<text x="0.00" y="0.00" font-size="7.6" fill="#3a3a3a" text-anchor="middle" textLength="103.00" lengthAdjust="spacingAndGlyphs" transform="translate(16.6,125.2) rotate(-90)" stroke="#3a3a3a" stroke-width="0.22">Bitcoin network hashrate, in EH/s</text>
<text x="0.00" y="0.00" font-size="7.6" fill="#3a3a3a" text-anchor="middle" textLength="111.00" lengthAdjust="spacingAndGlyphs" transform="translate(306.1,126.0) rotate(-90)" stroke="#3a3a3a" stroke-width="0.22">Ann. electricity consumption, in TWh</text>
<text x="24.40" y="244.20" font-size="6.9" fill="#3a3a3a" textLength="197.60" lengthAdjust="spacingAndGlyphs" stroke="#3a3a3a" stroke-width="0.08">Source: COIN METRICS; Cambridge Bitcoin Electricity Consumption Index</text>
<text x="356.80" y="31.80" font-size="9.7" fill="#2b2b2b" textLength="243.70" lengthAdjust="spacingAndGlyphs" stroke="#2b2b2b" stroke-width="0.32">Impact of decline in miner revenue on assumed hardware</text>
<text x="356.80" y="43.70" font-size="9.7" fill="#2b2b2b" textLength="39.50" lengthAdjust="spacingAndGlyphs" stroke="#2b2b2b" stroke-width="0.32">efficiency</text>
<line x1="348.20" y1="59.10" x2="362.50" y2="59.10" stroke="#666666" stroke-width="1.5"/>
<text x="364.80" y="61.40" font-size="6.6" fill="#3a3a3a" textLength="102.20" lengthAdjust="spacingAndGlyphs" stroke="#3a3a3a" stroke-width="0.22">Miner Revenue per Terahash (in USD)</text>
<line x1="480.60" y1="59.10" x2="495.40" y2="59.10" stroke="#ebc95f" stroke-width="1.5"/>
<text x="497.00" y="61.40" font-size="6.6" fill="#3a3a3a" textLength="113.80" lengthAdjust="spacingAndGlyphs" stroke="#3a3a3a" stroke-width="0.22">CBECI set of profitable hardware (in J/Gh)</text>
<line x1="357.20" y1="73.00" x2="357.20" y2="191.80" stroke="#4a4a4a" stroke-width="1.2"/>
<line x1="356.60" y1="191.80" x2="600.20" y2="191.80" stroke="#4a4a4a" stroke-width="1.2"/>
<line x1="599.60" y1="73.00" x2="599.60" y2="191.80" stroke="#4a4a4a" stroke-width="1.2"/>
<line x1="354.70" y1="191.80" x2="357.20" y2="191.80" stroke="#4a4a4a" stroke-width="1"/>
<line x1="599.60" y1="191.80" x2="602.10" y2="191.80" stroke="#4a4a4a" stroke-width="1"/>
<text x="351.30" y="194.00" font-size="6.8" fill="#3a3a3a" text-anchor="end" textLength="12.20" lengthAdjust="spacingAndGlyphs" stroke="#3a3a3a" stroke-width="0.05">0.00</text>
<text x="605.80" y="194.00" font-size="6.8" fill="#3a3a3a" textLength="12.00" lengthAdjust="spacingAndGlyphs" stroke="#3a3a3a" stroke-width="0.05">0.00</text>
<line x1="354.70" y1="178.60" x2="357.20" y2="178.60" stroke="#4a4a4a" stroke-width="1"/>
<line x1="599.60" y1="178.60" x2="602.10" y2="178.60" stroke="#4a4a4a" stroke-width="1"/>
<text x="351.30" y="180.80" font-size="6.8" fill="#3a3a3a" text-anchor="end" textLength="12.20" lengthAdjust="spacingAndGlyphs" stroke="#3a3a3a" stroke-width="0.05">0.05</text>
<text x="605.80" y="180.80" font-size="6.8" fill="#3a3a3a" textLength="12.00" lengthAdjust="spacingAndGlyphs" stroke="#3a3a3a" stroke-width="0.05">0.01</text>
<line x1="354.70" y1="165.40" x2="357.20" y2="165.40" stroke="#4a4a4a" stroke-width="1"/>
<line x1="599.60" y1="165.40" x2="602.10" y2="165.40" stroke="#4a4a4a" stroke-width="1"/>
<text x="351.30" y="167.60" font-size="6.8" fill="#3a3a3a" text-anchor="end" textLength="12.20" lengthAdjust="spacingAndGlyphs" stroke="#3a3a3a" stroke-width="0.05">0.10</text>
<text x="605.80" y="167.60" font-size="6.8" fill="#3a3a3a" textLength="12.00" lengthAdjust="spacingAndGlyphs" stroke="#3a3a3a" stroke-width="0.05">0.02</text>
<line x1="354.70" y1="152.20" x2="357.20" y2="152.20" stroke="#4a4a4a" stroke-width="1"/>
<line x1="599.60" y1="152.20" x2="602.10" y2="152.20" stroke="#4a4a4a" stroke-width="1"/>
<text x="351.30" y="154.40" font-size="6.8" fill="#3a3a3a" text-anchor="end" textLength="12.20" lengthAdjust="spacingAndGlyphs" stroke="#3a3a3a" stroke-width="0.05">0.15</text>
<text x="605.80" y="154.40" font-size="6.8" fill="#3a3a3a" textLength="12.00" lengthAdjust="spacingAndGlyphs" stroke="#3a3a3a" stroke-width="0.05">0.03</text>
<line x1="354.70" y1="139.00" x2="357.20" y2="139.00" stroke="#4a4a4a" stroke-width="1"/>
<line x1="599.60" y1="139.00" x2="602.10" y2="139.00" stroke="#4a4a4a" stroke-width="1"/>
<text x="351.30" y="141.20" font-size="6.8" fill="#3a3a3a" text-anchor="end" textLength="12.20" lengthAdjust="spacingAndGlyphs" stroke="#3a3a3a" stroke-width="0.05">0.20</text>
<text x="605.80" y="141.20" font-size="6.8" fill="#3a3a3a" textLength="12.00" lengthAdjust="spacingAndGlyphs" stroke="#3a3a3a" stroke-width="0.05">0.04</text>
<line x1="354.70" y1="125.80" x2="357.20" y2="125.80" stroke="#4a4a4a" stroke-width="1"/>
<line x1="599.60" y1="125.80" x2="602.10" y2="125.80" stroke="#4a4a4a" stroke-width="1"/>
<text x="351.30" y="128.00" font-size="6.8" fill="#3a3a3a" text-anchor="end" textLength="12.20" lengthAdjust="spacingAndGlyphs" stroke="#3a3a3a" stroke-width="0.05">0.25</text>
<text x="605.80" y="128.00" font-size="6.8" fill="#3a3a3a" textLength="12.00" lengthAdjust="spacingAndGlyphs" stroke="#3a3a3a" stroke-width="0.05">0.05</text>
<line x1="354.70" y1="112.60" x2="357.20" y2="112.60" stroke="#4a4a4a" stroke-width="1"/>
<line x1="599.60" y1="112.60" x2="602.10" y2="112.60" stroke="#4a4a4a" stroke-width="1"/>
<text x="351.30" y="114.80" font-size="6.8" fill="#3a3a3a" text-anchor="end" textLength="12.20" lengthAdjust="spacingAndGlyphs" stroke="#3a3a3a" stroke-width="0.05">0.30</text>
<text x="605.80" y="114.80" font-size="6.8" fill="#3a3a3a" textLength="12.00" lengthAdjust="spacingAndGlyphs" stroke="#3a3a3a" stroke-width="0.05">0.06</text>
<line x1="354.70" y1="99.40" x2="357.20" y2="99.40" stroke="#4a4a4a" stroke-width="1"/>
<line x1="599.60" y1="99.40" x2="602.10" y2="99.40" stroke="#4a4a4a" stroke-width="1"/>
<text x="351.30" y="101.60" font-size="6.8" fill="#3a3a3a" text-anchor="end" textLength="12.20" lengthAdjust="spacingAndGlyphs" stroke="#3a3a3a" stroke-width="0.05">0.35</text>
<text x="605.80" y="101.60" font-size="6.8" fill="#3a3a3a" textLength="12.00" lengthAdjust="spacingAndGlyphs" stroke="#3a3a3a" stroke-width="0.05">0.07</text>
<line x1="354.70" y1="86.20" x2="357.20" y2="86.20" stroke="#4a4a4a" stroke-width="1"/>
<line x1="599.60" y1="86.20" x2="602.10" y2="86.20" stroke="#4a4a4a" stroke-width="1"/>
<text x="351.30" y="88.40" font-size="6.8" fill="#3a3a3a" text-anchor="end" textLength="12.20" lengthAdjust="spacingAndGlyphs" stroke="#3a3a3a" stroke-width="0.05">0.40</text>
<text x="605.80" y="88.40" font-size="6.8" fill="#3a3a3a" textLength="12.00" lengthAdjust="spacingAndGlyphs" stroke="#3a3a3a" stroke-width="0.05">0.08</text>
<line x1="354.70" y1="73.00" x2="357.20" y2="73.00" stroke="#4a4a4a" stroke-width="1"/>
<line x1="599.60" y1="73.00" x2="602.10" y2="73.00" stroke="#4a4a4a" stroke-width="1"/>
<text x="351.30" y="75.20" font-size="6.8" fill="#3a3a3a" text-anchor="end" textLength="12.20" lengthAdjust="spacingAndGlyphs" stroke="#3a3a3a" stroke-width="0.05">0.45</text>
<text x="605.80" y="75.20" font-size="6.8" fill="#3a3a3a" textLength="12.00" lengthAdjust="spacingAndGlyphs" stroke="#3a3a3a" stroke-width="0.05">0.09</text>
<text x="0.00" y="0.00" font-size="6.6" fill="#3a3a3a" text-anchor="end" textLength="21.90" lengthAdjust="spacingAndGlyphs" transform="translate(360.10,197.0) rotate(-90)" stroke="#3a3a3a" stroke-width="0.12">01/2021</text>
<text x="0.00" y="0.00" font-size="6.6" fill="#3a3a3a" text-anchor="end" textLength="21.90" lengthAdjust="spacingAndGlyphs" transform="translate(372.06,197.0) rotate(-90)" stroke="#3a3a3a" stroke-width="0.12">02/2021</text>
<text x="0.00" y="0.00" font-size="6.6" fill="#3a3a3a" text-anchor="end" textLength="21.90" lengthAdjust="spacingAndGlyphs" transform="translate(382.86,197.0) rotate(-90)" stroke="#3a3a3a" stroke-width="0.12">03/2021</text>
<text x="0.00" y="0.00" font-size="6.6" fill="#3a3a3a" text-anchor="end" textLength="21.90" lengthAdjust="spacingAndGlyphs" transform="translate(394.81,197.0) rotate(-90)" stroke="#3a3a3a" stroke-width="0.12">04/2021</text>
<text x="0.00" y="0.00" font-size="6.6" fill="#3a3a3a" text-anchor="end" textLength="21.90" lengthAdjust="spacingAndGlyphs" transform="translate(406.38,197.0) rotate(-90)" stroke="#3a3a3a" stroke-width="0.12">05/2021</text>
<text x="0.00" y="0.00" font-size="6.6" fill="#3a3a3a" text-anchor="end" textLength="21.90" lengthAdjust="spacingAndGlyphs" transform="translate(418.34,197.0) rotate(-90)" stroke="#3a3a3a" stroke-width="0.12">06/2021</text>
<text x="0.00" y="0.00" font-size="6.6" fill="#3a3a3a" text-anchor="end" textLength="21.90" lengthAdjust="spacingAndGlyphs" transform="translate(429.91,197.0) rotate(-90)" stroke="#3a3a3a" stroke-width="0.12">07/2021</text>
<text x="0.00" y="0.00" font-size="6.6" fill="#3a3a3a" text-anchor="end" textLength="21.90" lengthAdjust="spacingAndGlyphs" transform="translate(441.87,197.0) rotate(-90)" stroke="#3a3a3a" stroke-width="0.12">08/2021</text>
<text x="0.00" y="0.00" font-size="6.6" fill="#3a3a3a" text-anchor="end" textLength="21.90" lengthAdjust="spacingAndGlyphs" transform="translate(453.82,197.0) rotate(-90)" stroke="#3a3a3a" stroke-width="0.12">09/2021</text>
<text x="0.00" y="0.00" font-size="6.6" fill="#3a3a3a" text-anchor="end" textLength="21.90" lengthAdjust="spacingAndGlyphs" transform="translate(465.39,197.0) rotate(-90)" stroke="#3a3a3a" stroke-width="0.12">10/2021</text>
<text x="0.00" y="0.00" font-size="6.6" fill="#3a3a3a" text-anchor="end" textLength="21.90" lengthAdjust="spacingAndGlyphs" transform="translate(477.35,197.0) rotate(-90)" stroke="#3a3a3a" stroke-width="0.12">11/2021</text>
<text x="0.00" y="0.00" font-size="6.6" fill="#3a3a3a" text-anchor="end" textLength="21.90" lengthAdjust="spacingAndGlyphs" transform="translate(488.92,197.0) rotate(-90)" stroke="#3a3a3a" stroke-width="0.12">12/2021</text>
<text x="0.00" y="0.00" font-size="6.6" fill="#3a3a3a" text-anchor="end" textLength="21.90" lengthAdjust="spacingAndGlyphs" transform="translate(500.88,197.0) rotate(-90)" stroke="#3a3a3a" stroke-width="0.12">01/2022</text>
<text x="0.00" y="0.00" font-size="6.6" fill="#3a3a3a" text-anchor="end" textLength="21.90" lengthAdjust="spacingAndGlyphs" transform="translate(512.83,197.0) rotate(-90)" stroke="#3a3a3a" stroke-width="0.12">02/2022</text>
<text x="0.00" y="0.00" font-size="6.6" fill="#3a3a3a" text-anchor="end" textLength="21.90" lengthAdjust="spacingAndGlyphs" transform="translate(523.63,197.0) rotate(-90)" stroke="#3a3a3a" stroke-width="0.12">03/2022</text>
<text x="0.00" y="0.00" font-size="6.6" fill="#3a3a3a" text-anchor="end" textLength="21.90" lengthAdjust="spacingAndGlyphs" transform="translate(535.59,197.0) rotate(-90)" stroke="#3a3a3a" stroke-width="0.12">04/2022</text>
<text x="0.00" y="0.00" font-size="6.6" fill="#3a3a3a" text-anchor="end" textLength="21.90" lengthAdjust="spacingAndGlyphs" transform="translate(547.16,197.0) rotate(-90)" stroke="#3a3a3a" stroke-width="0.12">05/2022</text>
<text x="0.00" y="0.00" font-size="6.6" fill="#3a3a3a" text-anchor="end" textLength="21.90" lengthAdjust="spacingAndGlyphs" transform="translate(559.12,197.0) rotate(-90)" stroke="#3a3a3a" stroke-width="0.12">06/2022</text>
<text x="0.00" y="0.00" font-size="6.6" fill="#3a3a3a" text-anchor="end" textLength="21.90" lengthAdjust="spacingAndGlyphs" transform="translate(570.69,197.0) rotate(-90)" stroke="#3a3a3a" stroke-width="0.12">07/2022</text>
<text x="0.00" y="0.00" font-size="6.6" fill="#3a3a3a" text-anchor="end" textLength="21.90" lengthAdjust="spacingAndGlyphs" transform="translate(582.64,197.0) rotate(-90)" stroke="#3a3a3a" stroke-width="0.12">08/2022</text>
<text x="0.00" y="0.00" font-size="6.6" fill="#3a3a3a" text-anchor="end" textLength="21.90" lengthAdjust="spacingAndGlyphs" transform="translate(594.60,197.0) rotate(-90)" stroke="#3a3a3a" stroke-width="0.12">09/2022</text>
<text x="0.00" y="0.00" font-size="7.6" fill="#3a3a3a" text-anchor="middle" textLength="116.50" lengthAdjust="spacingAndGlyphs" transform="translate(334.9,133.2) rotate(-90)" stroke="#3a3a3a" stroke-width="0.22">Revenue per Terahash per day, in USD</text>
<text x="0.00" y="0.00" font-size="7.6" fill="#3a3a3a" text-anchor="middle" textLength="86.00" lengthAdjust="spacingAndGlyphs" transform="translate(628.2,132.0) rotate(-90)" stroke="#3a3a3a" stroke-width="0.22">Hardware efficiency, in J/Gh</text>
<text x="346.90" y="244.20" font-size="6.9" fill="#3a3a3a" textLength="197.60" lengthAdjust="spacingAndGlyphs" stroke="#3a3a3a" stroke-width="0.08">Source: COIN METRICS; Cambridge Bitcoin Electricity Consumption Index</text>
</svg>
</body></html>
